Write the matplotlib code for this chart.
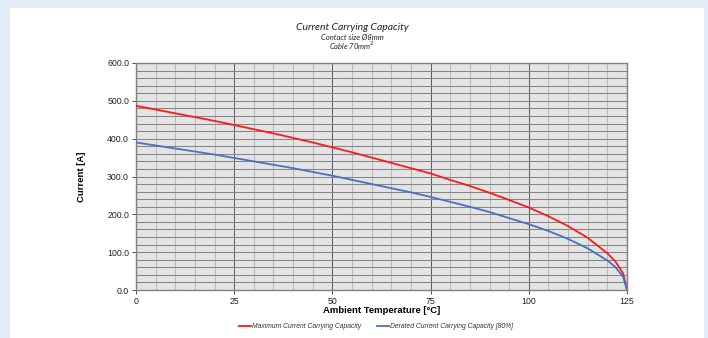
import numpy as np
import matplotlib.pyplot as plt
from matplotlib.patches import Rectangle
from matplotlib.ticker import MultipleLocator, FormatStrFormatter

# values
temperature = [0, 5, 10, 15, 20, 25, 30, 35, 40, 45, 50, 55, 60, 65, 70, 75,
               80, 85, 90, 95, 100, 105, 110, 115, 120, 122, 124, 125]
max_current = [487, 477, 467, 457, 447, 436, 425, 414, 402, 390, 377, 364, 350, 336,
               322, 308, 291, 275, 257, 238, 218, 195, 169, 138, 97, 76, 44, 0]
derated_current = [390, 382, 374, 366, 358, 349, 340, 331, 322, 312, 302, 291, 280, 269,
                   258, 246, 233, 220, 206, 190, 174, 156, 135, 110, 78, 61, 35, 0]

title = "Current Carrying Capacity"
subtitle1 = "Contact size Ø8mm"
subtitle2 = "Cable 70mm$^2$"
xlabel = "Ambient Temperature [°C]"
ylabel = "Current [A]"
labels = ["Maximum Current Carrying Capacity", "Derated Current Carrying Capacity [80%]"]

W, H = 708, 338
fig = plt.figure(figsize=(W / 100, H / 100), dpi=100)
fig.patch.set_facecolor("#e2ecf7")
fig.patches.append(Rectangle((10 / W, 0), 694 / W, 1 - 8 / H, transform=fig.transFigure,
                             facecolor="white", edgecolor="none", zorder=-5))

ax = fig.add_axes([136 / W, 1 - 290 / H, 491 / W, 227 / H])
ax.set_facecolor("#e4e4e4")

ax.plot(temperature, max_current, color="#ff1a1a", lw=1.3, zorder=3)
ax.plot(temperature, derated_current, color="#4472c4", lw=1.3, zorder=3)

ax.set_xlim(0, 125)
ax.set_ylim(0, 600)
ax.xaxis.set_major_locator(MultipleLocator(25))
ax.xaxis.set_minor_locator(MultipleLocator(5))
ax.yaxis.set_major_locator(MultipleLocator(100))
ax.yaxis.set_minor_locator(MultipleLocator(20))
ax.yaxis.set_major_formatter(FormatStrFormatter("%.1f"))

ax.grid(which="major", axis="x", color="#606060", lw=0.75)
ax.grid(which="minor", axis="x", color="#b8b8b8", lw=0.75)
ax.grid(which="both", axis="y", color="#858585", lw=0.75)
ax.set_axisbelow(True)

for s in ax.spines.values():
    s.set_color("#808080")
    s.set_linewidth(1.0)

ax.tick_params(which="major", labelsize=6.3, colors="#333333", length=3, width=0.6,
               labelcolor="#222222")
ax.tick_params(which="minor", length=0)
ax.tick_params(axis="x", pad=2)
ax.tick_params(axis="y", pad=2)
for lab in ax.get_xticklabels() + ax.get_yticklabels():
    lab.set_family("Liberation Sans")

ax.set_xlabel(xlabel, fontsize=6.8, fontweight="bold", family="Liberation Sans", labelpad=0)
ax.set_ylabel(ylabel, fontsize=6.8, fontweight="bold", family="Liberation Sans", labelpad=15)

fig.text(352 / W, 1 - 27 / H, title, ha="center", va="center", fontsize=7.5,
         style="italic", family="Lato", color="#222222")
fig.text(352 / W, 1 - 37 / H, subtitle1, ha="center", va="center", fontsize=5.5,
         style="italic", family="Lato", color="#222222")
fig.text(352 / W, 1 - 46 / H, subtitle2, ha="center", va="center", fontsize=5.5,
         style="italic", family="Lato", color="#222222")

leg = fig.legend(labels, loc="center", bbox_to_anchor=(376 / W, 1 - 327 / H), ncol=2,
                 frameon=False, handlelength=1.8, handletextpad=0.15,
                 columnspacing=2.4,
                 prop={"family": "Liberation Sans", "style": "italic", "size": 4.9})
for t in leg.get_texts():
    t.set_color("#333333")

fig.savefig("out.png", dpi=100, facecolor=fig.get_facecolor())
